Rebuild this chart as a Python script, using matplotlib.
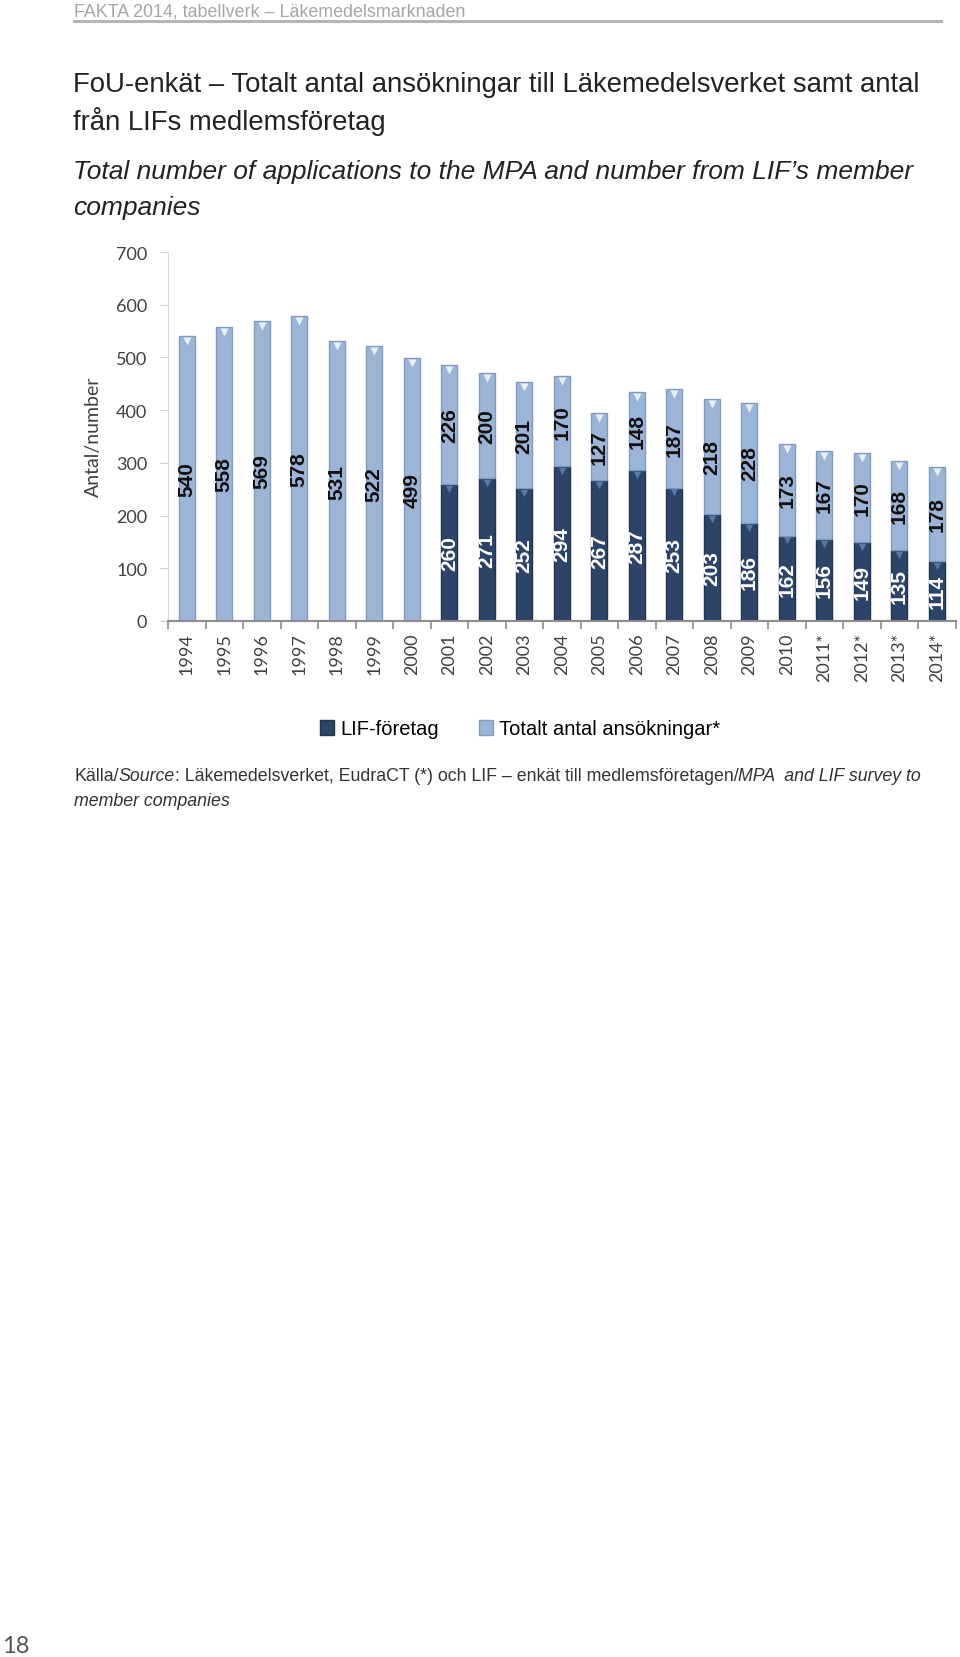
import matplotlib
matplotlib.use('Agg')
import matplotlib.pyplot as plt
from matplotlib import font_manager as fm
import matplotlib.transforms as mtransforms
from matplotlib.lines import Line2D
from matplotlib.patches import Patch
import numpy as np

# ---------------- data ----------------
years = ['1994', '1995', '1996', '1997', '1998', '1999', '2000', '2001', '2002',
         '2003', '2004', '2005', '2006', '2007', '2008', '2009', '2010',
         '2011*', '2012*', '2013*', '2014*']
lif = [np.nan] * 7 + [260, 271, 252, 294, 267, 287, 253, 203, 186, 162,
                      156, 149, 135, 114]
totalt = [540, 558, 569, 578, 531, 522, 499, 226, 200, 201, 170, 127, 148,
          187, 218, 228, 173, 167, 170, 168, 178]
yticks = [0, 100, 200, 300, 400, 500, 600, 700]
series_names = ['LIF-företag', 'Totalt antal ansökningar*']

# ---------------- fonts ----------------
names = {f.name for f in fm.fontManager.ttflist}
NARROW = 'Liberation Sans Narrow' if 'Liberation Sans Narrow' in names else 'Liberation Sans'
nscale = 1.17 if NARROW == 'Liberation Sans Narrow' else 1.0
LIGHT = 'Lato' if 'Lato' in names else 'DejaVu Sans'

DARK = '#2b4468'
DARK_EDGE = '#1f3352'
LIGHTC = '#9cb5d7'
LIGHT_EDGE = '#7f9bc0'

W, H = 960, 1658
fig = plt.figure(figsize=(W / 100, H / 100), dpi=100)
fig.patch.set_facecolor('white')


def fx(px):
    return px / W


def fy(py):
    return 1 - py / H


# header
fig.text(fx(74), fy(12), 'FAKTA 2014, tabellverk – Läkemedelsmarknaden',
         family=NARROW, fontsize=12.9 * nscale, color='#a6a6a6', va='center', ha='left')
fig.add_artist(Line2D([fx(74), fx(941)], [fy(22), fy(22)], color='#b5b5b5', lw=2.2))

# titles
fig.text(fx(73), fy(85), 'FoU-enkät – Totalt antal ansökningar till Läkemedelsverket samt antal',
         family=NARROW, fontsize=19.8 * nscale, color='#222222', va='center', ha='left')
fig.text(fx(73), fy(122), 'från LIFs medlemsföretag',
         family=NARROW, fontsize=19.8 * nscale, color='#222222', va='center', ha='left')
fig.text(fx(73), fy(172), 'Total number of applications to the MPA and number from LIF’s member',
         family=NARROW, style='italic', fontsize=19 * nscale, color='#222222', va='center', ha='left')
fig.text(fx(73), fy(208), 'companies',
         family=NARROW, style='italic', fontsize=19 * nscale, color='#222222', va='center', ha='left')

# ---------------- axes ----------------
ax = fig.add_axes([fx(168), fy(622), (955.5 - 168) / W, (622 - 253) / H])
x = np.arange(len(years))
lif_arr = np.array(lif, dtype=float)
bottom = np.nan_to_num(lif_arr)
tot_arr = np.array(totalt, dtype=float)
bw = 0.42

ax.bar(x, lif_arr, width=bw, color=DARK, edgecolor=DARK_EDGE, linewidth=1.0, zorder=2)
ax.bar(x, tot_arr, width=bw, bottom=bottom, color=LIGHTC, edgecolor=LIGHT_EDGE,
       linewidth=1.0, zorder=2)

# small bevel triangles at the top of each segment
off = mtransforms.ScaledTranslation(0, -3.5 / 72, fig.dpi_scale_trans)
mask = ~np.isnan(lif_arr)
ax.scatter(x[mask], lif_arr[mask], marker='v', s=28, color='#5a7aa3',
           transform=ax.transData + off, zorder=3, linewidths=0)
ax.scatter(x, bottom + tot_arr, marker='v', s=34, color='#e6eef8',
           transform=ax.transData + off, zorder=3, linewidths=0)

# data labels
for i in range(len(years)):
    if not np.isnan(lif_arr[i]):
        ax.text(x[i], lif_arr[i] / 2, f'{int(lif_arr[i])}', rotation=90,
                ha='center', va='center', color='white', family=NARROW,
                fontweight='bold', fontsize=15 * nscale, zorder=4)
    ax.text(x[i], bottom[i] + tot_arr[i] / 2, f'{int(tot_arr[i])}', rotation=90,
            ha='center', va='center', color='#111111', family=NARROW,
            fontweight='bold', fontsize=15 * nscale, zorder=4)

ax.set_xlim(-0.5, len(years) - 0.5)
ax.set_ylim(0, 700)
ax.set_yticks(yticks)
ax.set_yticklabels([str(v) for v in yticks], family=LIGHT, fontweight='normal',
                   fontsize=13, color='#404040')
ax.tick_params(axis='y', length=6, color='#d0d0d0', pad=9)
ax.set_xticks(x)
ax.set_xticklabels(years, rotation=90, family=LIGHT, fontweight='normal',
                   fontsize=13, color='#404040')
ax.tick_params(axis='x', which='major', length=0, pad=8)
ax.set_xticks(np.arange(-0.5, len(years)), minor=True)
ax.tick_params(axis='x', which='minor', length=5.5, color='#8c8c8c', width=1.2)

for s in ['top', 'right']:
    ax.spines[s].set_visible(False)
ax.spines['left'].set_color('#d9d9d9')
ax.spines['bottom'].set_color('#8c8c8c')
ax.spines['bottom'].set_linewidth(1.5)

fig.text(fx(93), fy(437), 'Antal/number', rotation=90, family=LIGHT,
         fontweight='normal', fontsize=14, color='#404040', va='center', ha='center')

# legend
handles = [Patch(facecolor=DARK, edgecolor=DARK_EDGE), Patch(facecolor=LIGHTC, edgecolor=LIGHT_EDGE)]
fig.legend(handles, series_names, loc='center', bbox_to_anchor=(fx(520), fy(730)),
           ncol=2, frameon=False, handlelength=0.7, handleheight=0.7, handletextpad=0.3,
           columnspacing=2.0, prop={'family': NARROW, 'size': 14.5 * nscale})

# source (mixed italic)
SRC_FS = 12.8 * nscale
src_parts = [('Källa/', 'normal'), ('Source', 'italic'),
             (': Läkemedelsverket, EudraCT (*) och LIF – enkät till medlemsföretagen/', 'normal'),
             ('MPA  and LIF survey to', 'italic')]
fig.text(fx(74), fy(785), src_parts[0][0], family=NARROW, fontsize=SRC_FS,
         color='#333333', va='bottom', ha='left', style=src_parts[0][1])
for txt, st in src_parts[1:]:
    fig.text(0, 0, txt, family=NARROW, fontsize=SRC_FS, color='#333333',
             style=st, va='bottom', ha='left')
fig.canvas.draw()
r = fig.canvas.get_renderer()
texts = fig.texts[-len(src_parts):]
inv = fig.transFigure.inverted()
for a, b in zip(texts[:-1], texts[1:]):
    bb = a.get_window_extent(r)
    x1, y0 = inv.transform((bb.x1, bb.y0))
    b.set_position((x1, y0))
fig.text(fx(74), fy(810), 'member companies', family=NARROW, style='italic',
         fontsize=SRC_FS, color='#333333', va='bottom', ha='left')

# page number
fig.text(fx(2), fy(1647), '18', family=LIGHT, fontweight='normal', fontsize=17,
         color='#555555', va='center', ha='left')

fig.savefig('out.png', dpi=100, facecolor='white')
